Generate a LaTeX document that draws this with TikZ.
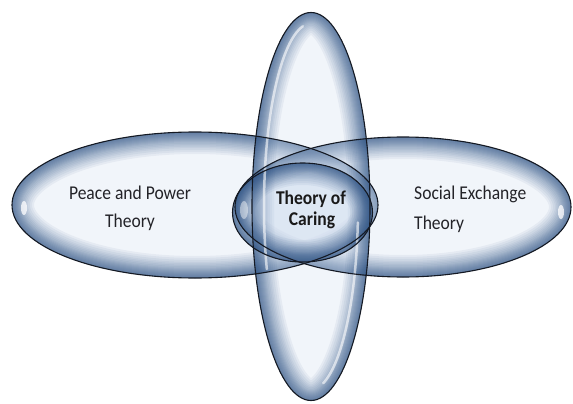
\documentclass[tikz,border=0pt]{standalone}
\usepackage{fontspec}
\newfontfamily\cf[FakeStretch=0.9]{Carlito}
\definecolor{cLight}{RGB}{212,224,240}
\definecolor{cDark}{RGB}{28,68,122}
\definecolor{cLine}{RGB}{20,25,35}
\definecolor{cText}{RGB}{35,35,40}
\newcommand\glossyell[3]{%
  \begin{scope}
    \clip (#1) ellipse[x radius=#2, y radius=#3];
    \fill[cLight, fill opacity=0.32] (#1) ellipse[x radius=#2, y radius=#3];
    \foreach \w in {2,4,6,8,10,12,14,16,18,20,23,26,29,32,36,40,44}{\draw[cDark, line width=\w pt, draw opacity=0.06] (#1) ellipse[x radius=#2, y radius=#3];}
  \end{scope}}
\begin{document}
\begin{tikzpicture}[x=1pt, y=-1pt,
  outline/.style={draw=cLine, line width=1.1pt},
  hl/.style={white, line width=2.5pt, draw opacity=0.6, line cap=round},
  spot/.style={fill=white, fill opacity=0.75},
  lbl/.style={font=\cf\fontsize{19.5}{24}\selectfont, text=cText, inner sep=0pt},
  lblb/.style={font=\cf\bfseries\fontsize{19.5}{24}\selectfont, text=black!90, inner sep=0pt}]
\useasboundingbox (0,0) rectangle (573,404);
% left, right, vertical, centre
\glossyell{195,205}{183pt}{73pt}
\glossyell{403,207}{168pt}{70pt}
\glossyell{311,206.5}{59pt}{194pt}
\glossyell{302.5,212.5}{70pt}{49.5pt}
% highlights
\fill[spot] (24,208) ellipse[x radius=3pt, y radius=7pt];
\fill[spot] (561,212) ellipse[x radius=3pt, y radius=7pt];
\fill[spot, fill opacity=0.45] (244,210) ellipse[x radius=4pt, y radius=9pt];
\draw[hl] ([shift={(100:47pt and 183pt)}]311,206.5) arc[start angle=100, end angle=200, x radius=47pt, y radius=183pt];
\draw[hl] ([shift={(-5:47pt and 183pt)}]311,206.5) arc[start angle=-5, end angle=-75, x radius=47pt, y radius=183pt];
% outlines
\draw[outline] (195,205) ellipse[x radius=183pt, y radius=73pt];
\draw[outline] (403,207) ellipse[x radius=168pt, y radius=70pt];
\draw[outline] (311,206.5) ellipse[x radius=59pt, y radius=194pt];
\draw[outline] (302.5,212.5) ellipse[x radius=70pt, y radius=49.5pt];
% texts
\node[lbl, anchor=base] (pp1) at (130,199) {Peace and Power};
\node[lbl, anchor=base] (pp2) at (130,227) {Theory};
\node[lbl, anchor=base west] (se1) at (414,199) {Social Exchange};
\node[lbl, anchor=base west] (se2) at (414,229) {Theory};
\node[lblb, anchor=base] (tc1) at (311,204) {Theory of};
\node[lblb, anchor=base] (tc2) at (312,225) {Caring};
\end{tikzpicture}
\end{document}
